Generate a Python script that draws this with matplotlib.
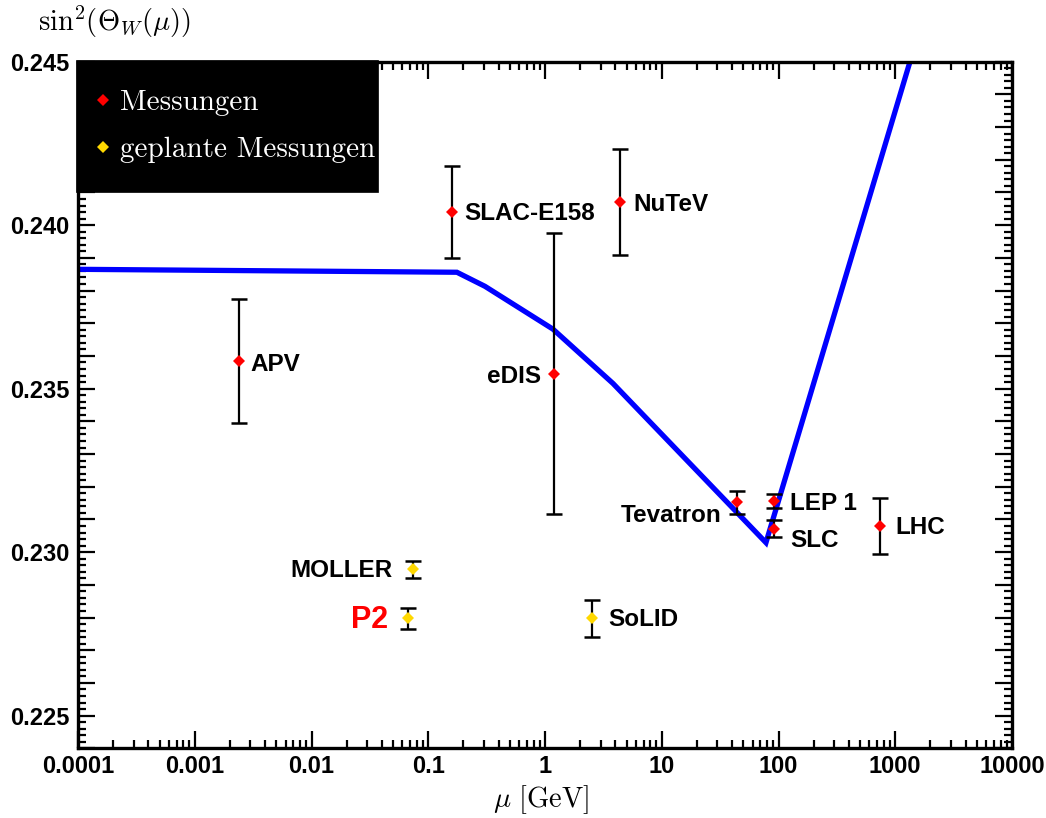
import matplotlib
matplotlib.use("Agg")
import matplotlib.pyplot as plt
from matplotlib.patches import Rectangle
from matplotlib.ticker import MultipleLocator, LogLocator, FuncFormatter, NullFormatter

plt.rcParams['mathtext.fontset'] = 'cm'
plt.rcParams['font.family'] = ['Liberation Sans', 'DejaVu Sans']

# measured values of the weak mixing angle
meas_names = ['APV', 'SLAC-E158', 'eDIS', 'NuTeV', 'Tevatron', 'LEP 1', 'SLC', 'LHC']
meas_mu = [0.00239, 0.161, 1.19, 4.39, 43.8, 91.2, 91.2, 740.0]
meas_s2w = [0.23584, 0.24041, 0.23546, 0.24070, 0.23153, 0.23156, 0.23071, 0.23079]
meas_err = [0.00189, 0.00141, 0.00429, 0.00162, 0.00035, 0.00021, 0.00026, 0.00086]

# planned experiments
plan_names = ['MOLLER', 'P2', 'SoLID']
plan_mu = [0.0745, 0.0667, 2.51]
plan_s2w = [0.22947, 0.22798, 0.22798]
plan_err = [0.00026, 0.00032, 0.00057]

# running of sin^2 theta_W (SM prediction)
run_mu = [0.0001, 0.176, 0.306, 1.17, 3.82, 78.1, 1337.0]
run_s2w = [0.23865, 0.23856, 0.23813, 0.23682, 0.23516, 0.23029, 0.2450]

# label placement (offset in points, horizontal alignment)
label_offsets = {
    'APV': (8.6, -2.2, 'left'),
    'SLAC-E158': (8.4, -1.6, 'left'),
    'eDIS': (-8.9, -1.8, 'right'),
    'NuTeV': (9.6, -1.9, 'left'),
    'Tevatron': (-10.8, -9.6, 'right'),
    'LEP 1': (11.5, -1.9, 'left'),
    'SLC': (11.5, -8.4, 'left'),
    'LHC': (10.8, -1.0, 'left'),
    'MOLLER': (-14.8, -0.5, 'right'),
    'P2': (-14.0, -1.3, 'right'),
    'SoLID': (12.0, -1.0, 'left'),
}

fig = plt.figure(figsize=(10.46, 8.18), dpi=100)
ax = fig.add_axes([78 / 1046, 1 - 748.3 / 818, 934 / 1046, 686.6 / 818])

ax.plot(run_mu, run_s2w, color='#0000ff', lw=3.8, solid_joinstyle='miter', zorder=2)

ax.errorbar(meas_mu, meas_s2w, yerr=meas_err, fmt='none', ecolor='black',
            elinewidth=1.6, capsize=6, capthick=1.8, zorder=3)
ax.errorbar(plan_mu, plan_s2w, yerr=plan_err, fmt='none', ecolor='black',
            elinewidth=1.6, capsize=6, capthick=1.8, zorder=3)
h_meas, = ax.plot(meas_mu, meas_s2w, 'D', color='#ff0000', ms=6.5, mew=0,
                  zorder=4, label='Messungen')
h_plan, = ax.plot(plan_mu, plan_s2w, 'D', color='#ffd800', ms=6.5, mew=0,
                  zorder=4, label='geplante Messungen')

for names, xs, ys in [(meas_names, meas_mu, meas_s2w), (plan_names, plan_mu, plan_s2w)]:
    for name, x, y in zip(names, xs, ys):
        dx, dy, ha = label_offsets[name]
        if name == 'P2':
            ax.annotate(name, (x, y), xytext=(dx, dy), textcoords='offset points',
                        ha=ha, va='center', fontsize=22, fontweight='bold', color='#ff0000')
        else:
            ax.annotate(name, (x, y), xytext=(dx, dy), textcoords='offset points',
                        ha=ha, va='center', fontsize=17.5, fontweight='bold', color='black')

ax.set_xscale('log')
ax.set_xlim(1e-4, 1e4)
ax.set_ylim(0.224, 0.245)

ax.xaxis.set_major_locator(LogLocator(base=10, numticks=20))
ax.xaxis.set_minor_locator(LogLocator(base=10, subs=range(2, 10), numticks=200))
ax.xaxis.set_major_formatter(FuncFormatter(lambda v, p: '%g' % v))
ax.xaxis.set_minor_formatter(NullFormatter())

ax.yaxis.set_major_locator(MultipleLocator(0.001))
ax.yaxis.set_minor_locator(MultipleLocator(0.0002))
ax.yaxis.set_major_formatter(FuncFormatter(
    lambda v, p: '%.3f' % v if abs(round(v / 0.005) * 0.005 - v) < 1e-7 else ''))

ax.tick_params(which='both', direction='in', top=True, right=True, width=1.6,
               labelsize=17)
ax.tick_params(which='major', length=12)
ax.tick_params(which='minor', length=6)
ax.tick_params(axis='x', pad=5)
ax.tick_params(axis='y', pad=6)
for lab in ax.get_xticklabels() + ax.get_yticklabels():
    lab.set_fontweight('bold')
for sp in ax.spines.values():
    sp.set_linewidth(2.4)

# black legend box in the upper left corner, drawn on top of the axes
box = Rectangle((-0.002, 0.8105), 0.323, 0.1915, transform=ax.transAxes,
                facecolor='black', edgecolor='black', linewidth=0.5, zorder=10)
fig.add_artist(box)
leg = fig.legend(handles=[h_meas, h_plan], loc='upper left',
                 bbox_to_anchor=(0.0174, 0.9595), bbox_transform=ax.transAxes,
                 frameon=False, prop={'family': 'cmr10', 'size': 21},
                 labelcolor='white', handlelength=0.6, handletextpad=0.28,
                 labelspacing=0.7, borderaxespad=0, borderpad=0)
leg.set_zorder(11)

fig.text(38 / 1046, 1 - 22 / 818, r'$\mathrm{sin}^2(\Theta_W(\mu))$', fontsize=20.5,
         ha='left', va='center')
fig.text(541 / 1046, 1 - 800 / 818, r'$\mu\ [\mathrm{GeV}]$', fontsize=20.5,
         ha='center', va='center')

fig.savefig('out.png', dpi=100)
